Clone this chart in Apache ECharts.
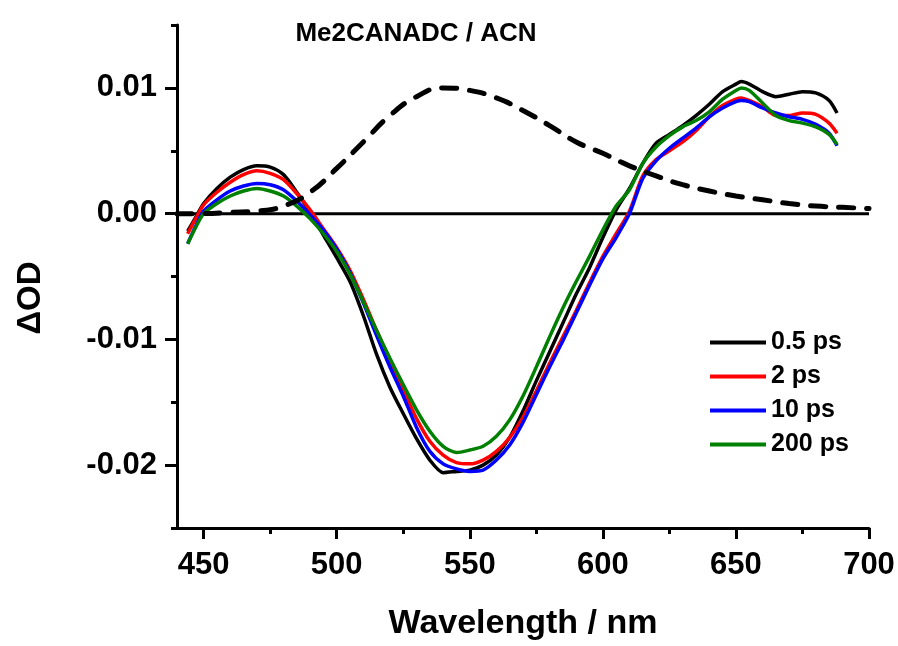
<!DOCTYPE html>
<html>
<head>
<meta charset="utf-8">
<title>Me2CANADC / ACN</title>
<script src="https://cdn.jsdelivr.net/npm/echarts@6/dist/echarts.min.js"></script>
<style>
  html, body { margin: 0; padding: 0; background: #ffffff; }
  #chart { width: 898px; height: 646px; }
</style>
</head>
<body>
<div id="chart"></div>
<script>
// transient spectra, wavelength in nm, values in OD
const wavelengths = [444, 447, 450, 455, 460, 465, 470, 475, 480, 485, 490, 495, 500, 505, 510, 515, 520, 525, 530, 535, 540, 545, 550, 555, 560, 565, 570, 575, 580, 585, 590, 595, 600, 605, 610, 615, 620, 625, 630, 635, 640, 645, 650, 652, 655, 660, 665, 670, 675, 680, 685, 688]

const od05ps = [-0.0014, -0.0003, 0.0008, 0.0020, 0.0029, 0.0035, 0.0038, 0.0037, 0.0031, 0.0017, 0.0001, -0.0017, -0.0035, -0.0054, -0.0081, -0.0112, -0.0138, -0.0159, -0.0179, -0.0196, -0.0206, -0.0205, -0.0204, -0.0200, -0.0192, -0.0178, -0.0157, -0.0133, -0.0110, -0.0087, -0.0064, -0.0043, -0.0019, 0.0003, 0.0020, 0.0040, 0.0056, 0.0063, 0.0070, 0.0078, 0.0087, 0.0097, 0.0103, 0.0105, 0.0103, 0.0097, 0.0093, 0.0095, 0.0097, 0.0096, 0.0090, 0.0080]

const od2ps = [-0.0016, -0.0004, 0.0007, 0.0017, 0.0025, 0.0031, 0.0034, 0.0032, 0.0027, 0.0016, 0.0003, -0.0012, -0.0027, -0.0045, -0.0068, -0.0093, -0.0117, -0.0140, -0.0163, -0.0181, -0.0192, -0.0198, -0.0199, -0.0196, -0.0189, -0.0178, -0.0162, -0.0141, -0.0119, -0.0098, -0.0077, -0.0055, -0.0034, -0.0016, 0.0002, 0.0030, 0.0043, 0.0050, 0.0057, 0.0066, 0.0077, 0.0086, 0.0091, 0.0092, 0.0090, 0.0085, 0.0078, 0.0078, 0.0080, 0.0079, 0.0072, 0.0064]

const od10ps = [-0.0024, -0.0010, 0.0002, 0.0011, 0.0018, 0.0022, 0.0024, 0.0023, 0.0019, 0.0010, -0.0001, -0.0013, -0.0028, -0.0047, -0.0071, -0.0097, -0.0122, -0.0145, -0.0170, -0.0189, -0.0199, -0.0203, -0.0205, -0.0204, -0.0196, -0.0184, -0.0166, -0.0144, -0.0122, -0.0101, -0.0079, -0.0057, -0.0036, -0.0019, 0.0000, 0.0028, 0.0042, 0.0052, 0.0060, 0.0068, 0.0077, 0.0084, 0.0089, 0.0090, 0.0089, 0.0084, 0.0080, 0.0077, 0.0075, 0.0071, 0.0064, 0.0054]

const od200ps = [-0.0024, -0.0011, 0.0000, 0.0008, 0.0014, 0.0018, 0.0020, 0.0018, 0.0014, 0.0006, -0.0004, -0.0016, -0.0030, -0.0048, -0.0070, -0.0093, -0.0115, -0.0136, -0.0156, -0.0173, -0.0185, -0.0190, -0.0188, -0.0185, -0.0177, -0.0164, -0.0145, -0.0122, -0.0098, -0.0075, -0.0054, -0.0034, -0.0013, 0.0006, 0.0019, 0.0040, 0.0053, 0.0062, 0.0069, 0.0074, 0.0081, 0.0091, 0.0098, 0.0100, 0.0098, 0.0088, 0.0078, 0.0074, 0.0072, 0.0069, 0.0063, 0.0055]

// dashed reference spectrum
const refWavelengths = [440, 450, 460, 470, 480, 490, 500, 510, 520, 530, 540, 550, 560, 570, 580, 590, 600, 610, 620, 630, 640, 650, 660, 670, 680, 690, 700]
const refOd = [0.0000, 0.0000, 0.0001, 0.0002, 0.0006, 0.0017, 0.0036, 0.0057, 0.0078, 0.0093, 0.0100, 0.0098, 0.0092, 0.0082, 0.0070, 0.0057, 0.0048, 0.0038, 0.0030, 0.0023, 0.0018, 0.0014, 0.0011, 0.0008, 0.0006, 0.0005, 0.0004]

const baselineWl = [440, 700]
const baselineOd = [0, 0]

const xLabelTicks = [450, 500, 550, 600, 650, 700]
const xMinorTicks = [450, 475, 500, 525, 550, 575, 600, 625, 650, 675, 700]
const yLabelTicks = [-0.02, -0.01, 0, 0.01]

const seriesNames = ['0.5 ps', '2 ps', '10 ps', '200 ps']
const seriesColors = ['#000000', '#ff0000', '#0000ff', '#008000']
const seriesValues = [od05ps, od2ps, od10ps, od200ps]

const FONT = '"Liberation Sans", Arial, Helvetica, sans-serif'

function pairs(xs, ys) {
  return xs.map((x, i) => [x, ys[i]])
}

const chart = echarts.init(document.getElementById('chart'))

const axisLineStyle = { color: '#000', width: 3 }

const option = {
  animation: false,
  backgroundColor: '#ffffff',
  title: {
    text: 'Me2CANADC / ACN',
    left: 411,
    top: 16,
    textAlign: 'center',
    textStyle: {
      fontFamily: FONT,
      fontSize: 26,
      fontWeight: 'bold',
      color: '#000'
    }
  },
  legend: {
    orient: 'vertical',
    left: 705,
    top: 325,
    itemWidth: 56,
    itemHeight: 4,
    itemGap: 9,
    icon: 'rect',
    data: seriesNames,
    textStyle: { fontFamily: FONT, fontSize: 25, fontWeight: 'bold', color: '#000', lineHeight: 25 }
  },
  grid: { left: 177, right: 29, top: 25, bottom: 109, containLabel: false },
  xAxis: [
    {
      type: 'value',
      min: 440,
      max: 700,
      name: 'Wavelength / nm',
      nameLocation: 'middle',
      nameGap: 79,
      nameTextStyle: { fontFamily: FONT, fontSize: 34, fontWeight: 'bold', color: '#000' },
      axisLine: { show: true, onZero: false, lineStyle: axisLineStyle },
      axisTick: { show: true, length: 6, customValues: xMinorTicks, lineStyle: { color: '#000', width: 3 } },
      axisLabel: {
        customValues: xLabelTicks,
        margin: 22,
        fontFamily: FONT,
        fontSize: 31,
        fontWeight: 'bold',
        color: '#000'
      },
      splitLine: { show: false }
    },
    {
      type: 'value',
      min: 440,
      max: 700,
      position: 'bottom',
      axisLine: { show: false, onZero: false },
      axisTick: { show: true, length: 11, customValues: xLabelTicks, lineStyle: { color: '#000', width: 3 } },
      axisLabel: { show: false },
      splitLine: { show: false }
    }
  ],
  yAxis: [
    {
      type: 'value',
      min: -0.025,
      max: 0.015,
      interval: 0.005,
      axisLine: { show: true, onZero: false, lineStyle: axisLineStyle },
      axisTick: { show: true, length: 6, lineStyle: { color: '#000', width: 3 } },
      axisLabel: {
        customValues: yLabelTicks,
        margin: 20,
        fontFamily: FONT,
        fontSize: 31,
        fontWeight: 'bold',
        color: '#000',
        formatter: (v) => v.toFixed(2)
      },
      splitLine: { show: false }
    },
    {
      type: 'value',
      min: -0.025,
      max: 0.015,
      position: 'left',
      axisLine: { show: false, onZero: false },
      axisTick: { show: true, length: 12, customValues: yLabelTicks, lineStyle: { color: '#000', width: 3 } },
      axisLabel: { show: false },
      splitLine: { show: false }
    }
  ],
  graphic: [
    {
      type: 'text',
      x: 31,
      y: 298,
      rotation: Math.PI / 2,
      style: {
        text: 'ΔOD',
        fill: '#000',
        font: 'bold 33px "Liberation Sans", Arial, sans-serif',
        align: 'center',
        verticalAlign: 'middle'
      }
    }
  ],
  series: [
    {
      name: 'baseline',
      type: 'line',
      data: pairs(baselineWl, baselineOd),
      showSymbol: false,
      silent: true,
      lineStyle: { color: '#000', width: 3 },
      z: 1
    },
    ...seriesNames.map((name, i) => ({
      name: name,
      type: 'line',
      data: pairs(wavelengths, seriesValues[i]),
      smooth: 0.25,
      showSymbol: false,
      color: seriesColors[i],
      lineStyle: { color: seriesColors[i], width: 3.5 },
      z: 2 + i
    })),
    {
      name: 'reference',
      type: 'line',
      data: pairs(refWavelengths, refOd),
      smooth: true,
      showSymbol: false,
      lineStyle: { color: '#000', width: 5, type: [15, 13], cap: 'round' },
      z: 10
    }
  ]
}

chart.setOption(option)
</script>
</body>
</html>
